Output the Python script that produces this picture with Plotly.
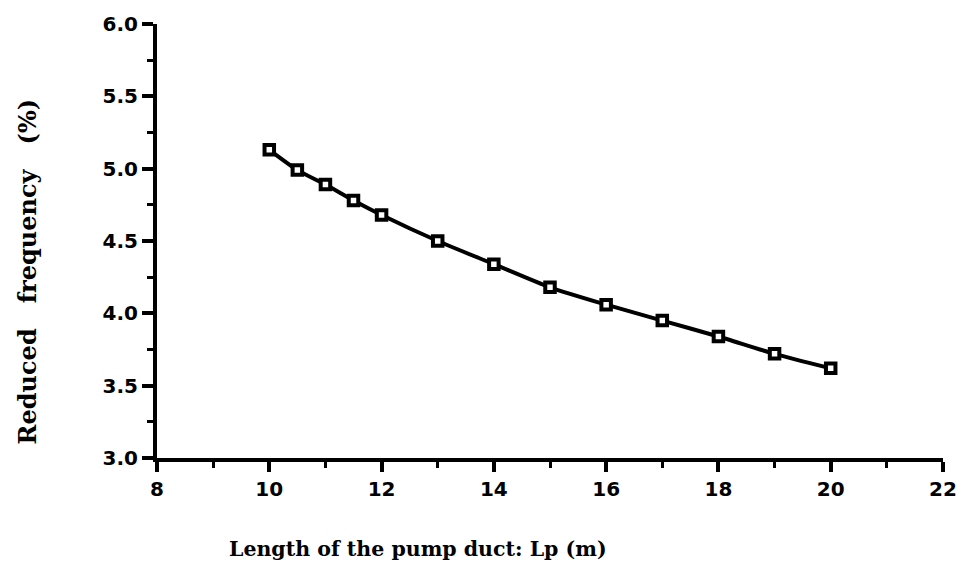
import plotly.graph_objects as go

# Pump duct length (m) and reduced frequency (%)
duct_length = [10, 10.5, 11, 11.5, 12, 13, 14, 15, 16, 17, 18, 19, 20]
reduced_freq = [5.13, 4.99, 4.89, 4.78, 4.68, 4.50, 4.34, 4.18, 4.06, 3.95, 3.84, 3.72, 3.62]

x_ticks = [8, 10, 12, 14, 16, 18, 20, 22]
y_ticks = [3.0, 3.5, 4.0, 4.5, 5.0, 5.5, 6.0]

tick_font = dict(family="DejaVu Sans, Arial, sans-serif", size=20, color="black", weight="bold")
xtitle_font = dict(family="DejaVu Serif, Times New Roman, serif", size=20.5, color="black", weight="bold")
ytitle_font = dict(family="DejaVu Serif, Times New Roman, serif", size=24, color="black", weight="bold")

fig = go.Figure()
fig.add_trace(go.Scatter(
    x=duct_length, y=reduced_freq,
    mode="lines+markers",
    line=dict(color="black", width=4, shape="spline", smoothing=0.6),
    marker=dict(symbol="square", size=9.5, color="white", line=dict(color="black", width=4)),
    showlegend=False,
))

axis_common = dict(
    showgrid=False, zeroline=False, showline=True, linecolor="black", linewidth=4,
    ticks="outside", tickwidth=4, tickcolor="black", tickfont=tick_font,
)

fig.update_xaxes(
    range=[8, 22], tickvals=x_ticks, ticktext=[str(v) for v in x_ticks], ticklen=10,
    minor=dict(ticks="outside", ticklen=6, tickwidth=3, tickcolor="black", dtick=1, tick0=8, showgrid=False),
    **axis_common,
)
fig.update_yaxes(
    range=[3, 6], tickvals=y_ticks, ticktext=[f"{v:.1f}" for v in y_ticks], ticklen=11,
    ticklabelstandoff=0,
    minor=dict(ticks="outside", ticklen=6, tickwidth=3, tickcolor="black", dtick=0.25, tick0=3, showgrid=False),
    **axis_common,
)

fig.add_annotation(
    text="Length of the pump duct: Lp (m)", xref="paper", yref="paper",
    x=(420 - 157) / (950 - 157), y=-(550 - 458) / (458 - 21),
    showarrow=False, font=xtitle_font, xanchor="center", yanchor="middle",
)
gap = "&nbsp;" * 3
fig.add_annotation(
    text=f"Reduced{gap}frequency{gap}(%)",
    xref="paper", yref="paper",
    x=-(157 - 26) / (950 - 157), y=(458 - 270) / (458 - 21),
    showarrow=False, font=ytitle_font, textangle=-90, xanchor="center", yanchor="middle",
)

fig.update_layout(
    width=969, height=569,
    margin=dict(l=157, r=19, t=21, b=111),
    paper_bgcolor="white", plot_bgcolor="white",
)

fig.write_html("out.html")
